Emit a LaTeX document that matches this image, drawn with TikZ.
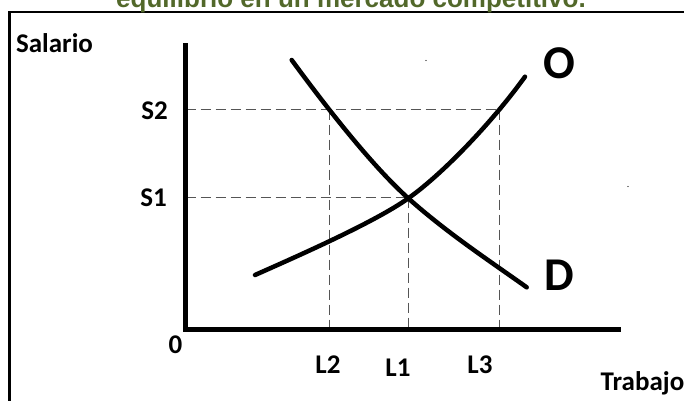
\documentclass[tikz,border=0pt]{standalone}
\usepackage{fontspec}
\setmainfont{Carlito}
\newfontfamily\titlefont{Liberation Sans}
\definecolor{titlegreen}{RGB}{82,104,42}
\definecolor{guide}{RGB}{85,85,85}
\begin{document}
\begin{tikzpicture}[x=1pt,y=-1pt,
  lbl/.style={font=\bfseries\fontsize{27}{27}\selectfont, anchor=base, inner sep=0pt},
  big/.style={font=\bfseries\fontsize{47}{47}\selectfont, anchor=base, inner sep=0pt},
  axis/.style={line width=5pt},
  curve/.style={line width=4.5pt, line cap=round},
  guideline/.style={draw=guide, line width=1.2pt, dash pattern=on 10pt off 5pt}]
\useasboundingbox (0,0) rectangle (684,400);
% frame
\draw[line width=2.5pt] (9.7,420) -- (9.7,12.2) -- (700,12.2);
% title (cut off at top)
\node[anchor=base, inner sep=0pt, text=titlegreen, font=\titlefont\bfseries\fontsize{26}{26}\selectfont] (title) at (351,7.5) {equilibrio en un mercado competitivo.};
% coordinates
\coordinate (origin) at (185.5,329.5);
\coordinate (ytop) at (185.5,43);
\coordinate (xend) at (621,329.5);
\coordinate (s2) at (185.5,109.5);
\coordinate (s1) at (185.5,197.5);
\coordinate (e2) at (329.3,109.5);
\coordinate (e3) at (499.5,109.5);
\coordinate (e1) at (408.3,197.5);
\coordinate (b2) at (329.3,329.5);
\coordinate (b1) at (408.3,329.5);
\coordinate (b3) at (499.5,329.5);
% guide lines
\draw[guideline] (s2) -- (e3);
\draw[guideline] (s1) -- (e1);
\draw[guideline] (e2) -- (b2);
\draw[guideline] (e1) -- (b1);
\draw[guideline] (e3) -- (b3);
% axes
\draw[axis] (ytop) -- ([yshift=2.5pt]origin);
\draw[axis] ([xshift=-2.5pt]origin) -- (xend);
% demand curve
\draw[curve] (291.7,60) .. controls (321.7,101) and (370.3,164.3) .. (408.3,198.3)
  .. controls (446.3,232.3) and (488.7,260.3) .. (526.7,287.3);
% supply curve
\draw[curve] (255,275) .. controls (300,255) and (375,222) .. (408.3,198.3)
  .. controls (441.3,174.9) and (490,125) .. (525,76.7);
% specks
\fill (426,60.5) circle (0.6pt);
\fill (628,186.5) circle (0.6pt);
% labels
\node[lbl] (salario) at (54.5,52.7) {Salario};
\node[lbl] (ls2) at (154.5,119) {S2};
\node[lbl] (ls1) at (153.5,206) {S1};
\node[lbl] (zero) at (175.5,353) {0};
\node[lbl] (ll2) at (328,373) {L2};
\node[lbl] (ll1) at (398,376) {L1};
\node[lbl] (ll3) at (480,373) {L3};
\node[lbl] (trabajo) at (642.5,390) {Trabajo};
\node[big] (O) at (559,78) {O};
\node[big] (D) at (559.7,290) {D};
\end{tikzpicture}
\end{document}
